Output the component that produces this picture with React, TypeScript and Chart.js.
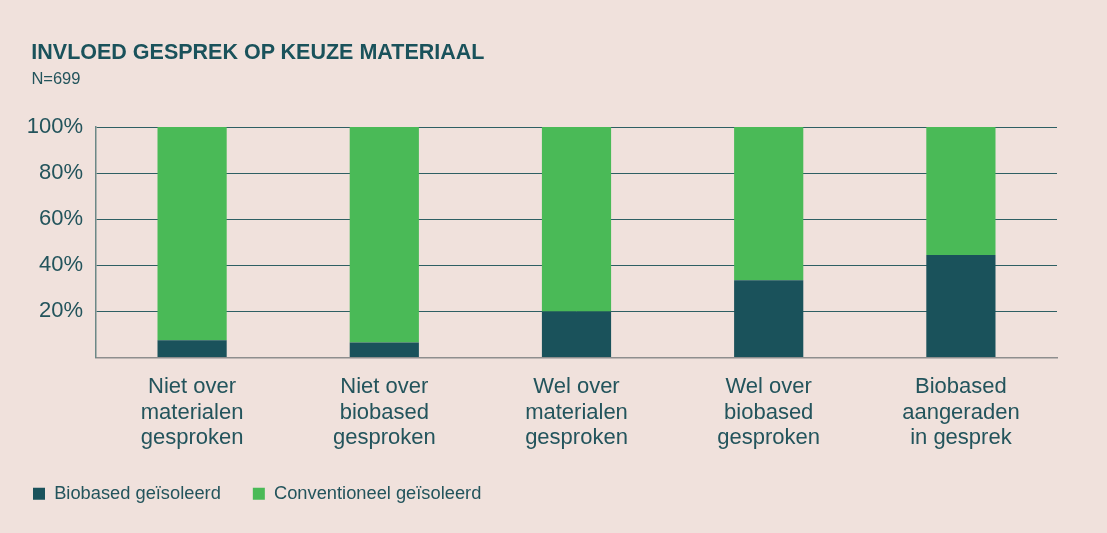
import React, { useEffect, useRef } from 'react';
import { Chart, registerables } from 'chart.js';

Chart.register(...registerables);

const titleText = 'INVLOED GESPREK OP KEUZE MATERIAAL';
const subtitleText = 'N=699';

const categories: string[][] = [
  ['Niet over', 'materialen', 'gesproken'],
  ['Niet over', 'biobased', 'gesproken'],
  ['Wel over', 'materialen', 'gesproken'],
  ['Wel over', 'biobased', 'gesproken'],
  ['Biobased', 'aangeraden', 'in gesprek'],
];

const seriesNames = ['Biobased geïsoleerd', 'Conventioneel geïsoleerd'];
const biobasedValues = [7.5, 6.5, 20, 33.5, 44.5];
const conventioneelValues = [92.5, 93.5, 80, 66.5, 55.5];

const yMin = 0;
const yMax = 100;
const yStep = 20;

const BG = '#f0e1dc';
const DARK = '#1a525b';
const GREEN = '#4aba57';
const TEXT = '#23545c';
const FONT = '"Liberation Sans", Arial, Helvetica, sans-serif';

export default function App() {
  const canvasRef = useRef<HTMLCanvasElement | null>(null);

  useEffect(() => {
    if (!canvasRef.current) return;
    const chart = new Chart(canvasRef.current, {
      type: 'bar',
      data: {
        labels: categories,
        datasets: [
          {
            label: seriesNames[0],
            data: biobasedValues,
            backgroundColor: DARK,
            borderWidth: 0,
            barPercentage: 0.36,
            categoryPercentage: 1,
          },
          {
            label: seriesNames[1],
            data: conventioneelValues,
            backgroundColor: GREEN,
            borderWidth: 0,
            barPercentage: 0.36,
            categoryPercentage: 1,
          },
        ],
      },
      options: {
        animation: false,
        responsive: false,
        maintainAspectRatio: false,
        layout: { padding: { left: 1, right: 50, top: 127, bottom: 20 } },
        plugins: {
          title: { display: false },
          tooltip: { enabled: false },
          legend: {
            position: 'bottom',
            align: 'start',
            labels: {
              boxWidth: 12,
              boxHeight: 12,
              padding: 32,
              color: TEXT,
              font: { family: FONT, size: 18.3 },
            },
          },
        },
        scales: {
          x: {
            stacked: true,
            grid: { display: false, drawTicks: false },
            border: { display: true, color: '#8e8e8e', width: 1.5 },
            ticks: {
              color: TEXT,
              font: { family: FONT, size: 22, lineHeight: 1.16 },
              padding: 17,
              maxRotation: 0,
              autoSkip: false,
            },
            afterFit: (scale: any) => {
              scale.height = 95.2;
            },
          },
          y: {
            stacked: true,
            min: yMin,
            max: yMax,
            ticks: {
              stepSize: yStep,
              color: TEXT,
              font: { family: FONT, size: 22 },
              padding: 13,
              callback: (v: any) => (Number(v) === 0 ? '' : `${v}%`),
            },
            grid: {
              drawTicks: false,
              lineWidth: 1,
              color: (ctx: any) => (ctx.tick && ctx.tick.value === 0 ? 'rgba(0,0,0,0)' : '#2e5f63'),
            },
            border: { display: true, color: '#6c8886', width: 1.5 },
            afterFit: (scale: any) => {
              scale.width = 95;
            },
          },
        },
      },
    });
    return () => chart.destroy();
  }, []);

  return (
    <div
      style={{
        position: 'fixed',
        left: 0,
        top: 0,
        width: 1107,
        height: 533,
        background: BG,
        overflow: 'hidden',
        fontFamily: FONT,
      }}
    >
      <canvas
        ref={canvasRef}
        width={1107}
        height={533}
        style={{ position: 'absolute', left: 0, top: 0, width: 1107, height: 533 }}
      />
      <div
        style={{
          position: 'absolute',
          left: 31.3,
          top: 42.2,
          fontSize: 21.5,
          lineHeight: 1,
          fontWeight: 700,
          color: DARK,
          whiteSpace: 'nowrap',
        }}
      >
        {titleText}
      </div>
      <div
        style={{
          position: 'absolute',
          left: 31.4,
          top: 69.6,
          fontSize: 16.5,
          lineHeight: 1,
          color: TEXT,
          whiteSpace: 'nowrap',
        }}
      >
        {subtitleText}
      </div>
    </div>
  );
}
